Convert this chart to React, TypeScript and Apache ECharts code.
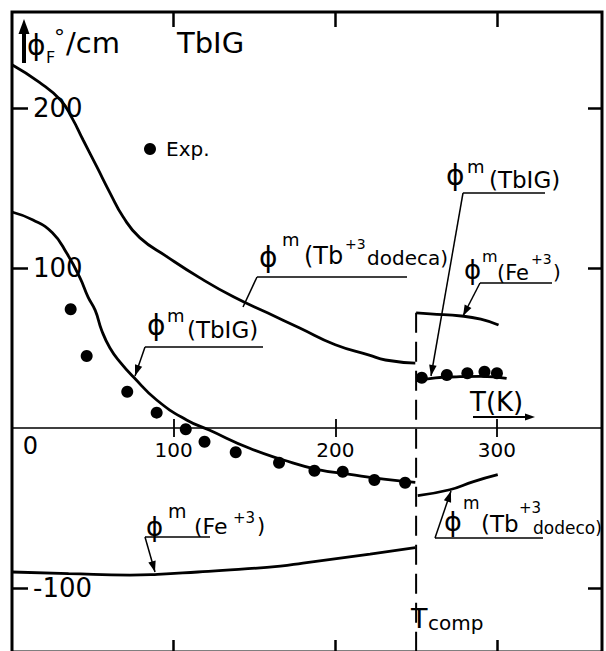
import React, { useEffect, useRef } from 'react';
import * as echarts from 'echarts';

const FONT = 'DejaVu Sans';

// Temperature axis (K) and Faraday rotation axis (deg/cm)
const xTickValues = [100, 200, 300];
const yTickValues = [-100, 100, 200];
const yTickLabels = ['-100', '100', '200'];
const Y_MIN = -140;
const Y_MAX = 260;
const T_COMP = 250;

// phi^m (Tb+3 dodeca), below Tcomp
const tbDodecaLow: number[][] = [
  [0, 227], [17, 216], [30, 205], [37, 194], [44, 180], [52.6, 163], [60.6, 147],
  [68.7, 132], [79, 119], [96, 107], [116, 94], [137, 82], [158, 72], [178, 62.5],
  [200, 52], [221, 45.6], [231, 42.5], [249.5, 40.6],
];
// phi^m (TbIG), below Tcomp
const tbigLow: number[][] = [
  [0, 135], [13, 130], [25, 122], [34, 109], [42, 94], [47, 82], [51.5, 73.5],
  [55.5, 61], [60.6, 50], [67, 41], [75, 32], [89.5, 17.5], [108, 5], [122, -1.3],
  [147, -12.7], [168, -20], [188.5, -25.8], [209, -29], [230, -32], [249.5, -34],
];
// phi^m (Fe+3), below Tcomp
const feLow: number[][] = [
  [0, -90], [35, -91], [73, -92], [90, -91.5], [115, -90], [135, -88.7],
  [166, -86.3], [180, -84.4], [221.5, -78.8], [249.5, -74.8],
];
// above Tcomp
const feHigh: number[][] = [[250, 72], [258.7, 71.3], [278, 70], [290, 68], [301, 64.4]];
const tbigHigh: number[][] = [[250, 29.5], [262, 31.3], [275, 32], [290, 32.3], [306, 31]];
const tbDodecoHigh: number[][] = [[251, -42.2], [270.8, -38.6], [285.5, -33.5], [300.5, -29.2]];
// Experimental points
const expLow: number[][] = [
  [36.3, 74.2], [46.2, 45], [71.3, 22.7], [89.5, 9.6], [107.5, -0.8], [119.1, -8.6],
  [138.4, -15.2], [165.2, -21.7], [187.1, -26.7], [204.6, -27.3], [224.2, -32.5], [243.2, -34.2],
];
const expHigh: number[][] = [[253.5, 31.4], [269, 33.1], [281.7, 34.2], [292.3, 35.2], [300, 34.2]];
// Tcomp dashed marker
const tcompLine: number[][] = [[T_COMP, 72], [T_COMP, Y_MIN]];

const GRID = { left: 12, top: 12, width: 590, height: 640 };
// distance (px) from the grid bottom up to the value-zero line
const ZERO_OFFSET = -(GRID.height * (0 - Y_MIN)) / (Y_MAX - Y_MIN);

function txt(x: number, y: number, text: string, size: number, align: string = 'left') {
  return {
    type: 'text', x, y, silent: true, z: 100,
    style: {
      text, fontSize: size, fontFamily: FONT, fill: '#000',
      align, verticalAlign: 'middle', textAlign: align, textVerticalAlign: 'middle',
    },
  };
}
function seg(points: number[][], w = 1.5) {
  return { type: 'polyline', silent: true, z: 100, shape: { points }, style: { stroke: '#000', lineWidth: w, fill: null } };
}
function head(x1: number, y1: number, x2: number, y2: number, len = 11, half = 3.8) {
  const dx = x2 - x1, dy = y2 - y1;
  const d = Math.hypot(dx, dy);
  const ux = dx / d, uy = dy / d;
  const bx = x2 - ux * len, by = y2 - uy * len;
  return {
    type: 'polygon', silent: true, z: 100,
    shape: { points: [[x2, y2], [bx - uy * half, by + ux * half], [bx + uy * half, by - ux * half]] },
    style: { fill: '#000' },
  };
}
function leader(under: number[], from: number[], to: number[], arrow: boolean) {
  const els: any[] = [seg([[under[0], under[2]], [under[1], under[2]]]), seg([from, to])];
  if (arrow) els.push(head(from[0], from[1], to[0], to[1]));
  return els;
}

const graphics: any[] = [
  // y-axis title with arrow
  seg([[24, 63], [24, 30]], 4),
  { type: 'polygon', silent: true, z: 100, shape: { points: [[24, 19], [18.5, 34], [29.5, 34]] }, style: { fill: '#000' } },
  txt(27, 45, 'ϕ', 28),
  txt(46, 57, 'F', 16),
  txt(54, 37, '°', 22),
  txt(66, 43, '/cm', 29),
  txt(177, 43, 'TbIG', 29),
  txt(30.5, 446, '0', 24, 'center'),

  // phi^m (Tb+3 dodeca) upper
  txt(259, 257, 'ϕ', 28),
  txt(282, 239, 'm', 18),
  txt(304, 256, '(Tb', 24),
  txt(345, 244, '+3', 14),
  txt(367, 258, 'dodeca)', 20),
  ...leader([257, 407, 277], [257, 277], [243, 307], false),

  // phi^m (TbIG) upper right
  txt(446, 175, 'ϕ', 28),
  txt(467, 166, 'm', 18),
  txt(489, 180, '(TbIG)', 23),
  ...leader([463, 545, 193], [463, 193], [431, 376], true),

  // phi^m (Fe+3) upper right
  txt(464, 270, 'ϕ', 26),
  txt(482, 256, 'm', 16),
  txt(497, 273, '(Fe', 21),
  txt(531, 259, '+3', 14),
  txt(553, 272, ')', 20),
  ...leader([480, 552, 283], [480, 283], [463, 316], true),

  // phi^m (TbIG) left
  txt(147, 325, 'ϕ', 28),
  txt(167, 315, 'm', 18),
  txt(187, 330, '(TbIG)', 23),
  ...leader([145, 263, 347], [145, 347], [135, 376], true),

  // phi^m (Fe+3) lower left
  txt(146, 527, 'ϕ', 26),
  txt(168, 511, 'm', 19),
  txt(194, 526, '(Fe', 22),
  txt(233, 518, '+3', 15),
  txt(257, 526, ')', 21),
  ...leader([145, 210, 537], [145, 537], [155, 572], true),

  // phi^m (Tb+3 dodeco) lower right
  txt(444, 521, 'ϕ', 27),
  txt(463, 503, 'm', 17),
  txt(481, 524, '(Tb', 23),
  txt(519, 508, '+3', 15),
  txt(533, 528, 'dodeco)', 17),
  ...leader([435, 543, 538], [435, 538], [451, 491], true),

  // T(K) with arrow
  txt(470, 402, 'T(K)', 26),
  seg([[473, 417], [528, 417]], 1.8),
  head(473, 417, 535, 417, 10, 3.5),

  // Tcomp
  txt(411, 618, 'T', 27),
  txt(428, 623, 'comp', 20),
];

const lineSeries = (name: string, data: number[][]) => ({
  name, type: 'line', data, symbol: 'none', smooth: 0.5,
  lineStyle: { color: '#000', width: 2.8 }, silent: true,
});

export default function App() {
  const ref = useRef<HTMLDivElement>(null);
  useEffect(() => {
    if (!ref.current) return;
    const chart = echarts.init(ref.current, undefined, { renderer: 'svg' });
    const baseX = { type: 'value', min: 0, max: 365, interval: 100, splitLine: { show: false } };
    const baseY = { type: 'value', min: Y_MIN, max: Y_MAX, splitLine: { show: false } };
    chart.setOption({
      animation: false,
      backgroundColor: '#fff',
      textStyle: { fontFamily: FONT },
      grid: {
        ...GRID, show: true, borderColor: '#000', borderWidth: 3,
        containLabel: false, outerBoundsMode: 'none',
      },
      legend: {
        data: ['Exp.'], left: 139, top: 134, icon: 'circle', itemWidth: 22, itemHeight: 12,
        selectedMode: false, textStyle: { fontSize: 20, fontFamily: FONT, color: '#000' },
        itemStyle: { opacity: 1, color: '#000' },
      },
      xAxis: [
        {
          // zero line with tick labels and downward ticks
          ...baseX, position: 'bottom', offset: ZERO_OFFSET,
          axisLine: { show: true, onZero: false, lineStyle: { color: '#000', width: 1.5 } },
          axisTick: { show: true, inside: false, length: 9, lineStyle: { color: '#000', width: 1.8 }, customValues: xTickValues },
          axisLabel: { show: true, margin: 12, fontSize: 20, color: '#000', fontFamily: FONT, customValues: xTickValues },
        },
        {
          // upward ticks on the zero line
          ...baseX, position: 'bottom', offset: ZERO_OFFSET,
          axisLine: { show: false, onZero: false },
          axisTick: { show: true, inside: true, length: 9, lineStyle: { color: '#000', width: 1.8 }, customValues: xTickValues },
          axisLabel: { show: false },
        },
        {
          ...baseX, position: 'top',
          axisLine: { show: false, onZero: false },
          axisTick: { show: true, inside: true, length: 15, lineStyle: { color: '#000', width: 2.5 }, customValues: xTickValues },
          axisLabel: { show: false },
        },
        {
          ...baseX, position: 'bottom',
          axisLine: { show: false, onZero: false },
          axisTick: { show: true, inside: true, length: 12, lineStyle: { color: '#000', width: 2.5 }, customValues: xTickValues },
          axisLabel: { show: false },
        },
      ],
      yAxis: [
        {
          ...baseY, position: 'left',
          axisLine: { show: false, onZero: false },
          axisTick: { show: true, inside: true, length: 16, lineStyle: { color: '#000', width: 2.5 }, customValues: yTickValues },
          axisLabel: {
            show: true, inside: true, margin: 21, fontSize: 26, color: '#000', fontFamily: FONT,
            customValues: yTickValues,
            formatter: (v: number) => yTickLabels[yTickValues.indexOf(v)] ?? String(v),
          },
        },
        {
          ...baseY, position: 'right',
          axisLine: { show: false, onZero: false },
          axisTick: { show: true, inside: true, length: 14, lineStyle: { color: '#000', width: 2.5 }, customValues: yTickValues },
          axisLabel: { show: false },
        },
      ],
      series: [
        lineSeries('phi_m Tb dodeca (T<Tcomp)', tbDodecaLow),
        lineSeries('phi_m TbIG (T<Tcomp)', tbigLow),
        lineSeries('phi_m Fe (T<Tcomp)', feLow),
        lineSeries('phi_m Fe (T>Tcomp)', feHigh),
        lineSeries('phi_m TbIG (T>Tcomp)', tbigHigh),
        lineSeries('phi_m Tb dodeco (T>Tcomp)', tbDodecoHigh),
        {
          name: 'Tcomp', type: 'line', data: tcompLine, symbol: 'none', silent: true,
          lineStyle: { color: '#000', width: 2, type: [20, 9] },
        },
        {
          name: 'Exp.', type: 'scatter', data: [...expLow, ...expHigh], symbol: 'circle', symbolSize: 12,
          itemStyle: { color: '#000', opacity: 1 }, silent: true, z: 5,
        },
      ],
      graphic: graphics,
    });
    return () => chart.dispose();
  }, []);
  return (
    <div
      ref={ref}
      style={{ position: 'fixed', left: 0, top: 0, width: 606, height: 651, background: '#fff' }}
    />
  );
}
